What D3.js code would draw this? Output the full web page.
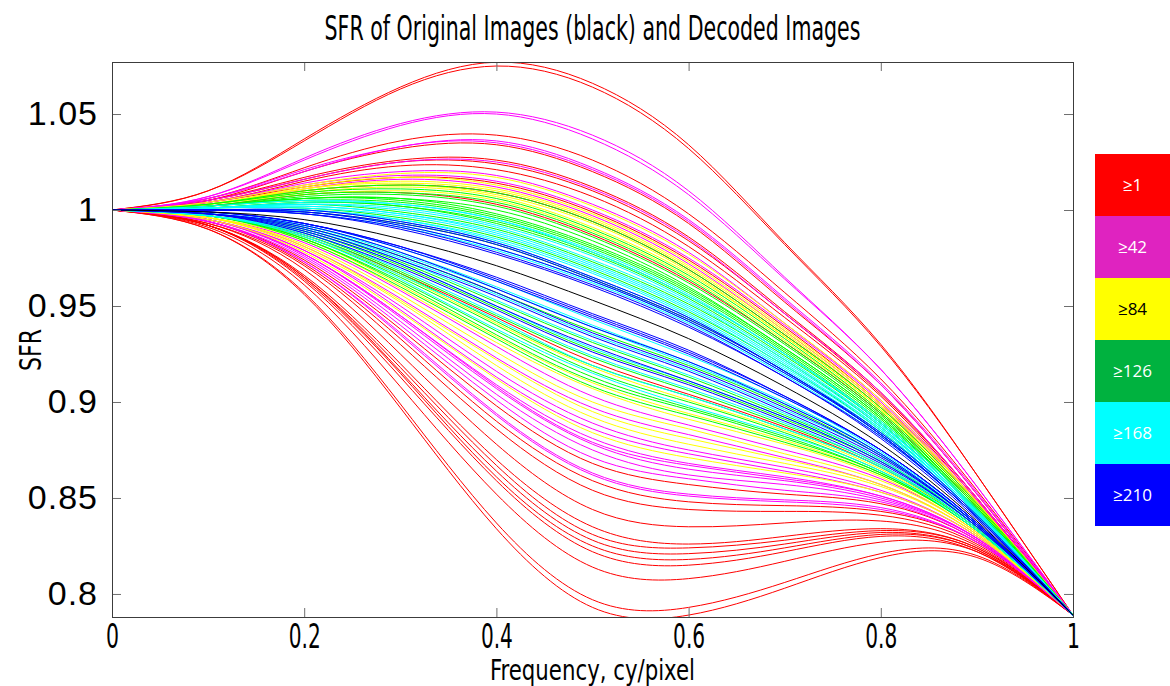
<!DOCTYPE html>
<html>
<head>
<meta charset="utf-8">
<script src="https://cdn.jsdelivr.net/npm/d3@7"></script>
<style>
  body { margin: 0; background: #fff; }
  svg { display: block; }
</style>
</head>
<body>
<div id="chart"></div>
<script>
// frequency samples, cy/pixel (every curve is read at these x)
const freq = [0, 0.1, 0.2, 0.3, 0.4, 0.5, 0.6, 0.7, 0.8, 0.9, 1];

const xTicks = [0, 0.2, 0.4, 0.6, 0.8, 1];
const yTicks = [0.8, 0.85, 0.9, 0.95, 1, 1.05];
const legendLabels = ["≥1", "≥42", "≥84", "≥126", "≥168", "≥210"];

// original image (black)
const originalCurve = [1, 0.999, 0.995, 0.985, 0.971, 0.953, 0.933, 0.908, 0.878, 0.838, 0.789];

// decoded images, grouped by legend bin
const redCurves = [
  [1, 1.010, 1.037, 1.064, 1.077, 1.066, 1.034, 0.983, 0.930, 0.862, 0.789],
  [1, 1.010, 1.036, 1.063, 1.075, 1.064, 1.032, 0.982, 0.929, 0.862, 0.789],
  [1, 1.006, 1.022, 1.036, 1.039, 1.026, 0.998, 0.957, 0.912, 0.854, 0.789],
  [1, 1.005, 1.020, 1.032, 1.034, 1.020, 0.993, 0.952, 0.909, 0.852, 0.789],
  [1, 1.005, 1.017, 1.026, 1.026, 1.012, 0.986, 0.947, 0.905, 0.850, 0.789],
  [1, 1.005, 1.016, 1.025, 1.024, 1.010, 0.984, 0.946, 0.904, 0.850, 0.789],
  [1, 1.004, 1.015, 1.023, 1.021, 1.007, 0.981, 0.944, 0.903, 0.849, 0.789],
  [1, 1.004, 1.012, 1.017, 1.014, 0.999, 0.974, 0.939, 0.899, 0.848, 0.789],
  [1, 1.003, 1.010, 1.013, 1.009, 0.994, 0.969, 0.935, 0.897, 0.847, 0.789],
  [1, 1.002, 1.008, 1.009, 1.003, 0.987, 0.963, 0.931, 0.894, 0.845, 0.789],
  [1, 0.990, 0.956, 0.897, 0.834, 0.793, 0.789, 0.803, 0.819, 0.819, 0.789],
  [1, 0.990, 0.957, 0.899, 0.837, 0.797, 0.793, 0.806, 0.821, 0.820, 0.789],
  [1, 0.991, 0.961, 0.908, 0.852, 0.814, 0.808, 0.817, 0.827, 0.822, 0.789],
  [1, 0.992, 0.963, 0.913, 0.859, 0.822, 0.815, 0.822, 0.830, 0.822, 0.789],
  [1, 0.992, 0.964, 0.915, 0.861, 0.825, 0.818, 0.824, 0.831, 0.823, 0.789],
  [1, 0.992, 0.965, 0.916, 0.864, 0.828, 0.821, 0.826, 0.832, 0.823, 0.789],
  [1, 0.992, 0.965, 0.918, 0.867, 0.831, 0.824, 0.828, 0.833, 0.824, 0.789],
  [1, 0.992, 0.966, 0.920, 0.870, 0.835, 0.826, 0.830, 0.834, 0.824, 0.789],
  [1, 0.993, 0.969, 0.925, 0.878, 0.844, 0.835, 0.837, 0.838, 0.825, 0.789],
  [1, 0.993, 0.971, 0.930, 0.886, 0.854, 0.844, 0.843, 0.841, 0.826, 0.789],
  [1, 0.994, 0.972, 0.933, 0.890, 0.859, 0.848, 0.846, 0.843, 0.827, 0.789],
  [1, 0.994, 0.974, 0.938, 0.898, 0.868, 0.857, 0.852, 0.847, 0.828, 0.789],
  [1, 0.997, 0.987, 0.967, 0.944, 0.921, 0.904, 0.887, 0.866, 0.834, 0.789]
];
const magentaCurves = [
  [1, 1.007, 1.027, 1.045, 1.051, 1.039, 1.010, 0.965, 0.917, 0.856, 0.789],
  [1, 1.007, 1.026, 1.044, 1.050, 1.037, 1.008, 0.964, 0.917, 0.856, 0.789],
  [1, 1.006, 1.021, 1.033, 1.036, 1.022, 0.995, 0.954, 0.910, 0.853, 0.789],
  [1, 1.006, 1.020, 1.033, 1.035, 1.021, 0.994, 0.953, 0.909, 0.852, 0.789],
  [1, 1.005, 1.016, 1.025, 1.025, 1.011, 0.985, 0.946, 0.905, 0.850, 0.789],
  [1, 1.004, 1.014, 1.020, 1.018, 1.003, 0.978, 0.941, 0.901, 0.849, 0.789],
  [1, 1.004, 1.013, 1.018, 1.015, 1.000, 0.975, 0.940, 0.900, 0.848, 0.789],
  [1, 1.003, 1.011, 1.016, 1.012, 0.997, 0.972, 0.937, 0.898, 0.847, 0.789],
  [1, 0.994, 0.973, 0.935, 0.893, 0.862, 0.851, 0.848, 0.844, 0.827, 0.789],
  [1, 0.994, 0.973, 0.936, 0.894, 0.863, 0.852, 0.849, 0.845, 0.827, 0.789],
  [1, 0.994, 0.975, 0.940, 0.901, 0.871, 0.860, 0.854, 0.848, 0.828, 0.789],
  [1, 0.995, 0.976, 0.942, 0.904, 0.875, 0.862, 0.857, 0.849, 0.829, 0.789],
  [1, 0.995, 0.977, 0.944, 0.907, 0.878, 0.865, 0.859, 0.850, 0.829, 0.789],
  [1, 0.995, 0.977, 0.945, 0.908, 0.879, 0.867, 0.860, 0.851, 0.829, 0.789],
  [1, 0.995, 0.977, 0.945, 0.909, 0.881, 0.868, 0.861, 0.851, 0.829, 0.789],
  [1, 0.995, 0.979, 0.948, 0.913, 0.886, 0.873, 0.864, 0.853, 0.830, 0.789],
  [1, 0.995, 0.979, 0.950, 0.916, 0.889, 0.875, 0.866, 0.854, 0.830, 0.789],
  [1, 0.996, 0.981, 0.954, 0.923, 0.897, 0.883, 0.871, 0.857, 0.831, 0.789],
  [1, 0.996, 0.983, 0.958, 0.929, 0.903, 0.888, 0.875, 0.860, 0.832, 0.789]
];
const yellowCurves = [
  [1, 1.004, 1.013, 1.019, 1.017, 1.002, 0.977, 0.941, 0.901, 0.848, 0.789],
  [1, 1.003, 1.012, 1.017, 1.013, 0.998, 0.973, 0.938, 0.899, 0.848, 0.789],
  [1, 1.003, 1.011, 1.015, 1.011, 0.996, 0.971, 0.937, 0.898, 0.847, 0.789],
  [1, 1.003, 1.011, 1.014, 1.010, 0.995, 0.970, 0.936, 0.897, 0.847, 0.789],
  [1, 1.003, 1.010, 1.013, 1.008, 0.993, 0.968, 0.934, 0.896, 0.846, 0.789],
  [1, 1.003, 1.009, 1.012, 1.007, 0.991, 0.967, 0.934, 0.896, 0.846, 0.789],
  [1, 1.003, 1.008, 1.010, 1.005, 0.989, 0.965, 0.932, 0.895, 0.846, 0.789],
  [1, 0.995, 0.978, 0.947, 0.912, 0.884, 0.871, 0.863, 0.853, 0.830, 0.789],
  [1, 0.996, 0.980, 0.952, 0.919, 0.892, 0.878, 0.868, 0.856, 0.831, 0.789],
  [1, 0.996, 0.981, 0.953, 0.922, 0.895, 0.881, 0.870, 0.857, 0.831, 0.789],
  [1, 0.996, 0.982, 0.956, 0.926, 0.900, 0.886, 0.873, 0.859, 0.832, 0.789],
  [1, 0.996, 0.984, 0.959, 0.931, 0.907, 0.891, 0.878, 0.861, 0.832, 0.789],
  [1, 0.997, 0.985, 0.961, 0.934, 0.910, 0.894, 0.880, 0.862, 0.833, 0.789],
  [1, 0.997, 0.986, 0.966, 0.941, 0.918, 0.901, 0.885, 0.865, 0.834, 0.789]
];
const greenCurves = [
  [1, 1.003, 1.010, 1.013, 1.009, 0.994, 0.969, 0.935, 0.897, 0.847, 0.789],
  [1, 1.003, 1.009, 1.011, 1.006, 0.990, 0.966, 0.933, 0.895, 0.846, 0.789],
  [1, 1.002, 1.008, 1.009, 1.004, 0.988, 0.964, 0.931, 0.894, 0.845, 0.789],
  [1, 1.002, 1.007, 1.008, 1.002, 0.986, 0.962, 0.930, 0.893, 0.845, 0.789],
  [1, 1.002, 1.006, 1.006, 1.000, 0.984, 0.960, 0.928, 0.892, 0.844, 0.789],
  [1, 1.002, 1.006, 1.006, 0.998, 0.982, 0.959, 0.928, 0.892, 0.844, 0.789],
  [1, 1.002, 1.006, 1.005, 0.997, 0.981, 0.958, 0.927, 0.891, 0.844, 0.789],
  [1, 1.002, 1.005, 1.004, 0.996, 0.980, 0.957, 0.926, 0.890, 0.844, 0.789],
  [1, 1.001, 1.004, 1.002, 0.994, 0.978, 0.955, 0.925, 0.889, 0.843, 0.789],
  [1, 1.001, 1.004, 1.002, 0.993, 0.977, 0.954, 0.924, 0.889, 0.843, 0.789],
  [1, 1.001, 1.003, 0.999, 0.990, 0.973, 0.951, 0.922, 0.887, 0.842, 0.789],
  [1, 1.001, 1.001, 0.996, 0.986, 0.969, 0.947, 0.919, 0.885, 0.841, 0.789],
  [1, 1.000, 0.999, 0.993, 0.982, 0.964, 0.943, 0.916, 0.883, 0.840, 0.789],
  [1, 0.997, 0.984, 0.960, 0.933, 0.908, 0.893, 0.879, 0.862, 0.833, 0.789],
  [1, 0.997, 0.985, 0.962, 0.935, 0.911, 0.896, 0.881, 0.863, 0.833, 0.789],
  [1, 0.997, 0.985, 0.963, 0.937, 0.913, 0.897, 0.882, 0.863, 0.833, 0.789],
  [1, 0.997, 0.986, 0.965, 0.940, 0.916, 0.900, 0.884, 0.864, 0.834, 0.789],
  [1, 0.997, 0.987, 0.967, 0.942, 0.919, 0.903, 0.886, 0.866, 0.834, 0.789],
  [1, 0.997, 0.988, 0.968, 0.945, 0.923, 0.906, 0.888, 0.867, 0.834, 0.789],
  [1, 0.998, 0.989, 0.971, 0.949, 0.927, 0.910, 0.891, 0.869, 0.835, 0.789],
  [1, 0.998, 0.990, 0.973, 0.952, 0.931, 0.913, 0.893, 0.870, 0.835, 0.789],
  [1, 0.998, 0.991, 0.976, 0.957, 0.937, 0.919, 0.898, 0.872, 0.836, 0.789]
];
const cyanCurves = [
  [1, 1.002, 1.005, 1.003, 0.995, 0.979, 0.956, 0.925, 0.890, 0.844, 0.789],
  [1, 1.001, 1.004, 1.003, 0.995, 0.978, 0.955, 0.925, 0.889, 0.843, 0.789],
  [1, 1.001, 1.003, 1.001, 0.992, 0.976, 0.953, 0.923, 0.888, 0.843, 0.789],
  [1, 1.001, 1.003, 1.000, 0.991, 0.974, 0.952, 0.922, 0.888, 0.843, 0.789],
  [1, 1.001, 1.002, 0.998, 0.989, 0.972, 0.950, 0.921, 0.887, 0.842, 0.789],
  [1, 1.001, 1.002, 0.998, 0.988, 0.971, 0.949, 0.920, 0.886, 0.842, 0.789],
  [1, 1.001, 1.001, 0.997, 0.987, 0.970, 0.948, 0.919, 0.886, 0.842, 0.789],
  [1, 1.000, 1.000, 0.995, 0.985, 0.968, 0.946, 0.918, 0.885, 0.841, 0.789],
  [1, 1.000, 1.000, 0.995, 0.984, 0.967, 0.945, 0.917, 0.884, 0.841, 0.789],
  [1, 1.000, 1.000, 0.994, 0.983, 0.965, 0.944, 0.916, 0.884, 0.841, 0.789],
  [1, 1.000, 0.999, 0.992, 0.980, 0.963, 0.942, 0.915, 0.883, 0.840, 0.789],
  [1, 1.000, 0.998, 0.991, 0.979, 0.962, 0.941, 0.914, 0.882, 0.840, 0.789],
  [1, 0.997, 0.986, 0.964, 0.938, 0.915, 0.898, 0.883, 0.864, 0.833, 0.789],
  [1, 0.997, 0.987, 0.966, 0.943, 0.919, 0.903, 0.886, 0.866, 0.834, 0.789],
  [1, 0.997, 0.988, 0.969, 0.946, 0.924, 0.907, 0.889, 0.867, 0.835, 0.789],
  [1, 0.998, 0.989, 0.972, 0.950, 0.928, 0.911, 0.892, 0.869, 0.835, 0.789],
  [1, 0.998, 0.990, 0.974, 0.953, 0.932, 0.914, 0.894, 0.870, 0.836, 0.789],
  [1, 0.998, 0.991, 0.975, 0.956, 0.935, 0.917, 0.896, 0.872, 0.836, 0.789],
  [1, 0.998, 0.992, 0.977, 0.959, 0.939, 0.920, 0.899, 0.873, 0.836, 0.789],
  [1, 0.998, 0.992, 0.978, 0.960, 0.940, 0.921, 0.900, 0.873, 0.836, 0.789],
  [1, 0.999, 0.993, 0.980, 0.963, 0.943, 0.924, 0.902, 0.874, 0.837, 0.789]
];
const blueCurves = [
  [1, 1.000, 1.000, 0.994, 0.983, 0.965, 0.944, 0.916, 0.884, 0.841, 0.789],
  [1, 1.000, 0.999, 0.993, 0.982, 0.964, 0.943, 0.916, 0.883, 0.840, 0.789],
  [1, 1.000, 0.999, 0.992, 0.980, 0.963, 0.942, 0.915, 0.883, 0.840, 0.789],
  [1, 1.000, 0.998, 0.991, 0.978, 0.961, 0.940, 0.913, 0.882, 0.840, 0.789],
  [1, 1.000, 0.998, 0.990, 0.977, 0.960, 0.939, 0.913, 0.881, 0.839, 0.789],
  [1, 0.999, 0.993, 0.981, 0.965, 0.946, 0.927, 0.903, 0.875, 0.837, 0.789],
  [1, 0.999, 0.993, 0.981, 0.964, 0.945, 0.926, 0.903, 0.875, 0.837, 0.789],
  [1, 0.999, 0.993, 0.980, 0.963, 0.944, 0.925, 0.902, 0.875, 0.837, 0.789],
  [1, 0.998, 0.992, 0.978, 0.959, 0.939, 0.921, 0.899, 0.873, 0.836, 0.789],
  [1, 0.998, 0.991, 0.976, 0.957, 0.936, 0.918, 0.897, 0.872, 0.836, 0.789],
  [1, 0.998, 0.990, 0.974, 0.955, 0.934, 0.916, 0.895, 0.871, 0.836, 0.789],
  [1, 0.998, 0.989, 0.972, 0.950, 0.929, 0.911, 0.892, 0.869, 0.835, 0.789],
  [1, 0.998, 0.988, 0.970, 0.948, 0.926, 0.909, 0.890, 0.868, 0.835, 0.789]
];

// colours: line colour per bin, and the legend swatch colour
const groups = [
  { curves: redCurves, line: "#ff0000", swatch: "#ff0000", text: "#fff" },
  { curves: magentaCurves, line: "#ff00ff", swatch: "#df23c0", text: "#fff" },
  { curves: yellowCurves, line: "#ffff00", swatch: "#ffff00", text: "#000" },
  { curves: greenCurves, line: "#00ff00", swatch: "#00b23f", text: "#fff" },
  { curves: cyanCurves, line: "#00ffff", swatch: "#00ffff", text: "#fff" },
  { curves: blueCurves, line: "#0000ff", swatch: "#0000ff", text: "#fff" }
];

const W = 1170, H = 686;
// plot box in page pixels
const plot = { left: 112, top: 62, right: 1073, bottom: 617 };
const narrow = "'Liberation Sans Narrow', 'DejaVu Sans Condensed', 'Liberation Sans', sans-serif";

const svg = d3.select("#chart").append("svg")
  .attr("width", W)
  .attr("height", H);

const x = d3.scaleLinear().domain([0, 1]).range([plot.left, plot.right]);
const y = d3.scaleLinear().domain([0.788, 1.0771]).range([plot.bottom, plot.top]);

svg.append("defs").append("clipPath").attr("id", "plotclip")
  .append("rect")
  .attr("x", plot.left).attr("y", plot.top)
  .attr("width", plot.right - plot.left).attr("height", plot.bottom - plot.top);

const line = d3.line()
  .x((d, i) => x(freq[i]))
  .y((d) => y(d))
  .curve(d3.curveNatural);

const lines = svg.append("g").attr("clip-path", "url(#plotclip)");

// decoded curves, bin by bin, then the original on top
groups.forEach((g) => {
  lines.append("g")
    .selectAll("path")
    .data(g.curves)
    .join("path")
    .attr("d", line)
    .attr("fill", "none")
    .attr("stroke", g.line)
    .attr("stroke-width", 1);
});

lines.append("path")
  .datum(originalCurve)
  .attr("d", line)
  .attr("fill", "none")
  .attr("stroke", "#000")
  .attr("stroke-width", 1);

// axes: ticks point inward on all four sides (matlab box)
const tickColor = "#6e6e6e";
// narrow tick digits: ~13px a digit, ~6px a dot
const labelWidth = (s) => s.replace(/[^0-9]/g, "").length * 13 + (s.includes(".") ? 6 : 0);

const xAxis = svg.append("g")
  .attr("transform", `translate(0,${plot.bottom})`)
  .call(d3.axisBottom(x).tickValues(xTicks).tickSizeInner(-9).tickSizeOuter(0).tickPadding(0)
    .tickFormat(d3.format("")));
xAxis.select(".domain").remove();
xAxis.selectAll("line").attr("stroke", tickColor);
xAxis.selectAll("text")
  .attr("font-family", narrow)
  .attr("font-size", 33)
  .attr("fill", "#000")
  .attr("y", 31)
  .attr("dy", 0)
  .attr("textLength", function () { return labelWidth(this.textContent); })
  .attr("lengthAdjust", "spacingAndGlyphs");

const yAxis = svg.append("g")
  .attr("transform", `translate(${plot.left},0)`)
  .call(d3.axisLeft(y).tickValues(yTicks).tickSizeInner(-9).tickSizeOuter(0).tickPadding(14)
    .tickFormat(d3.format("")));
yAxis.select(".domain").remove();
yAxis.selectAll("line").attr("stroke", tickColor);
yAxis.selectAll("text")
  .attr("font-family", "'Liberation Sans', Arial, sans-serif")
  .attr("font-size", 34)
  .attr("letter-spacing", 1)
  .attr("fill", "#000");

const topAxis = svg.append("g")
  .attr("transform", `translate(0,${plot.top})`)
  .call(d3.axisTop(x).tickValues(xTicks).tickSizeInner(-9).tickSizeOuter(0).tickFormat(""));
topAxis.select(".domain").remove();
topAxis.selectAll("line").attr("stroke", tickColor);

const rightAxis = svg.append("g")
  .attr("transform", `translate(${plot.right},0)`)
  .call(d3.axisRight(y).tickValues(yTicks).tickSizeInner(-9).tickSizeOuter(0).tickFormat(""));
rightAxis.select(".domain").remove();
rightAxis.selectAll("line").attr("stroke", tickColor);

// frame
svg.append("rect")
  .attr("x", plot.left + 0.5).attr("y", plot.top + 0.5)
  .attr("width", plot.right - plot.left).attr("height", plot.bottom - plot.top)
  .attr("fill", "none")
  .attr("stroke", "#3c3c3c")
  .attr("stroke-width", 1);

// title and axis labels
svg.append("text")
  .attr("x", (plot.left + plot.right) / 2)
  .attr("y", 40)
  .attr("text-anchor", "middle")
  .attr("font-family", narrow)
  .attr("font-size", 33)
  .attr("textLength", 536)
  .attr("lengthAdjust", "spacingAndGlyphs")
  .text("SFR of Original Images (black) and Decoded Images");

svg.append("text")
  .attr("x", (plot.left + plot.right) / 2)
  .attr("y", 680)
  .attr("text-anchor", "middle")
  .attr("font-family", narrow)
  .attr("font-size", 29)
  .attr("textLength", 205)
  .attr("lengthAdjust", "spacingAndGlyphs")
  .text("Frequency, cy/pixel");

svg.append("text")
  .attr("transform", "translate(41,350) rotate(-90)")
  .attr("text-anchor", "middle")
  .attr("font-family", narrow)
  .attr("font-size", 31)
  .attr("textLength", 42)
  .attr("lengthAdjust", "spacingAndGlyphs")
  .text("SFR");

// colour-bin legend on the right edge
const legend = { x: 1095, y: 154, w: 75, h: 62 };
const lg = svg.append("g");
lg.selectAll("rect")
  .data(groups)
  .join("rect")
  .attr("x", legend.x)
  .attr("y", (d, i) => legend.y + i * legend.h)
  .attr("width", legend.w)
  .attr("height", legend.h)
  .attr("fill", (d) => d.swatch);
lg.selectAll("text")
  .data(groups)
  .join("text")
  .attr("x", legend.x + legend.w / 2)
  .attr("y", (d, i) => legend.y + i * legend.h + legend.h / 2)
  .attr("dy", "0.35em")
  .attr("text-anchor", "middle")
  .attr("font-family", "'Open Sans', 'Noto Sans', sans-serif")
  .attr("font-size", 17)
  .attr("fill", (d) => d.text)
  .text((d, i) => legendLabels[i]);
</script>
</body>
</html>
